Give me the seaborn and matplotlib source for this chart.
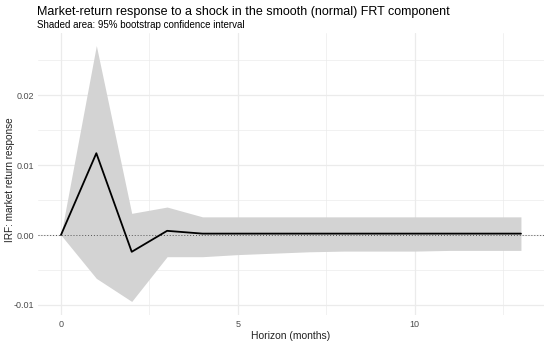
import matplotlib
matplotlib.use("Agg")
import matplotlib.pyplot as plt
import seaborn as sns
import pandas as pd

horizon = [0, 1, 2, 3, 4, 5, 6, 7, 8, 9, 10, 11, 12, 13]
irf = [0.0, 0.0117, -0.0024, 0.0006, 0.0002, 0.0002, 0.0002, 0.0002, 0.0002, 0.0002, 0.0002, 0.0002, 0.0002, 0.0002]
upper = [0.0, 0.0271, 0.0031, 0.0040, 0.0026, 0.0026, 0.0026, 0.0026, 0.0026, 0.0026, 0.0026, 0.0026, 0.0026, 0.0026]
lower = [0.0, -0.0062, -0.0095, -0.0031, -0.0031, -0.0028, -0.0026, -0.0024, -0.0023, -0.0023, -0.0023, -0.0022, -0.0022, -0.0022]

df = pd.DataFrame({"h": horizon, "irf": irf, "lo": lower, "hi": upper})

sns.set_style("white")
plt.rcParams["font.family"] = ["Liberation Sans", "DejaVu Sans"]

fig = plt.figure(figsize=(5.5, 3.47), dpi=100)
ax = fig.add_axes([0.069, 0.091, 0.92, 0.814])

# grid like theme_minimal
for v in [0, 2.5, 5, 7.5, 10, 12.5]:
    ax.axvline(v, color="#ebebeb", lw=0.9 if v % 5 == 0 else 0.5, zorder=0)
for v in [-0.01, -0.005, 0.0, 0.005, 0.01, 0.015, 0.02, 0.025]:
    ax.axhline(v, color="#ebebeb", lw=0.9 if abs(v * 100 - round(v * 100)) < 1e-9 else 0.5, zorder=0)

ax.fill_between(df["h"], df["lo"], df["hi"], color="#d3d3d3", lw=0, zorder=1)
ax.axhline(0, color="#555555", lw=0.7, ls=(0, (1, 2)), zorder=2)
sns.lineplot(data=df, x="h", y="irf", color="black", lw=1.3, ax=ax, zorder=3)

ax.set_xlim(-0.65, 13.65)
ax.set_ylim(-0.0115, 0.0289)
ax.set_xticks([0, 5, 10])
ax.set_yticks([-0.01, 0.0, 0.01, 0.02])
ax.set_yticklabels(["-0.01", "0.00", "0.01", "0.02"])
ax.tick_params(length=0, labelsize=6.5, labelcolor="#4d4d4d", pad=3)
for s in ax.spines.values():
    s.set_visible(False)

ax.set_xlabel("Horizon (months)", fontsize=7.5, color="#222222", labelpad=2)
ax.set_ylabel("IRF: market return response", fontsize=7.2, color="#222222")
ax.yaxis.set_label_coords(-0.046, 0.48)

fig.text(0.067, 0.965, "Market-return response to a shock in the smooth (normal) FRT component",
         fontsize=9, color="black", va="center")
fig.text(0.067, 0.928, "Shaded area: 95% bootstrap confidence interval",
         fontsize=7, color="black", va="center")

fig.savefig("out.png", dpi=100)
